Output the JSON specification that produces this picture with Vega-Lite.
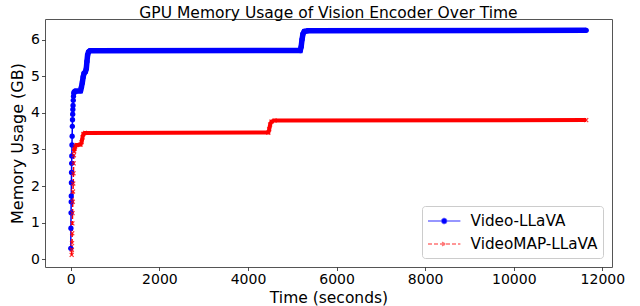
{
  "$schema": "https://vega.github.io/schema/vega-lite/v6.json",
  "width": 567,
  "height": 248,
  "autosize": {"type": "none"},
  "padding": {"left": 45, "top": 19, "right": 28, "bottom": 39},
  "title": {"text": "GPU Memory Usage of Vision Encoder Over Time", "fontSize": 15.5, "font": "DejaVu Sans", "fontWeight": "normal", "color": "#000000", "anchor": "middle", "baseline": "alphabetic", "offset": 1, "dy": 15},
  "config": {
    "view": {"stroke": "#555555", "strokeWidth": 1},
    "font": "DejaVu Sans",
    "axis": {"grid": false, "domain": false, "ticks": true, "tickSize": 3.5, "tickColor": "#222222", "tickWidth": 0.8, "labelFontSize": 14, "labelFont": "DejaVu Sans", "labelColor": "#000000", "labelPadding": 2, "labelFlush": false, "labelOverlap": false, "titleFont": "DejaVu Sans", "titleFontWeight": "normal", "titleColor": "#000000"}
  },
  "data": {"values": [
    {"t": 0, "m": 0.30, "s": "Video-LLaVA"},
    {"t": 3, "m": 0.85, "s": "Video-LLaVA"},
    {"t": 6, "m": 1.27, "s": "Video-LLaVA"},
    {"t": 9, "m": 1.57, "s": "Video-LLaVA"},
    {"t": 11, "m": 1.73, "s": "Video-LLaVA"},
    {"t": 14, "m": 2.09, "s": "Video-LLaVA"},
    {"t": 17, "m": 2.37, "s": "Video-LLaVA"},
    {"t": 20, "m": 2.62, "s": "Video-LLaVA"},
    {"t": 23, "m": 2.82, "s": "Video-LLaVA"},
    {"t": 27, "m": 3.12, "s": "Video-LLaVA"},
    {"t": 31, "m": 3.36, "s": "Video-LLaVA"},
    {"t": 35, "m": 3.63, "s": "Video-LLaVA"},
    {"t": 39, "m": 3.81, "s": "Video-LLaVA"},
    {"t": 43, "m": 3.96, "s": "Video-LLaVA"},
    {"t": 47, "m": 4.09, "s": "Video-LLaVA"},
    {"t": 51, "m": 4.20, "s": "Video-LLaVA"},
    {"t": 56, "m": 4.34, "s": "Video-LLaVA"},
    {"t": 61, "m": 4.45, "s": "Video-LLaVA"},
    {"t": 68, "m": 4.53, "s": "Video-LLaVA"},
    {"t": 80, "m": 4.57, "s": "Video-LLaVA"},
    {"t": 100, "m": 4.59, "s": "Video-LLaVA"},
    {"t": 220, "m": 4.60, "s": "Video-LLaVA"},
    {"t": 240, "m": 4.70, "s": "Video-LLaVA"},
    {"t": 260, "m": 4.82, "s": "Video-LLaVA"},
    {"t": 280, "m": 4.98, "s": "Video-LLaVA"},
    {"t": 300, "m": 5.08, "s": "Video-LLaVA"},
    {"t": 330, "m": 5.12, "s": "Video-LLaVA"},
    {"t": 350, "m": 5.20, "s": "Video-LLaVA"},
    {"t": 365, "m": 5.40, "s": "Video-LLaVA"},
    {"t": 380, "m": 5.58, "s": "Video-LLaVA"},
    {"t": 400, "m": 5.66, "s": "Video-LLaVA"},
    {"t": 430, "m": 5.69, "s": "Video-LLaVA"},
    {"t": 5180, "m": 5.70, "s": "Video-LLaVA"},
    {"t": 5200, "m": 5.80, "s": "Video-LLaVA"},
    {"t": 5220, "m": 6.00, "s": "Video-LLaVA"},
    {"t": 5240, "m": 6.15, "s": "Video-LLaVA"},
    {"t": 5270, "m": 6.22, "s": "Video-LLaVA"},
    {"t": 5350, "m": 6.24, "s": "Video-LLaVA"},
    {"t": 11635, "m": 6.25, "s": "Video-LLaVA"},
    {"t": 20, "m": 0.12, "s": "VideoMAP-LLaVA"},
    {"t": 24, "m": 0.26, "s": "VideoMAP-LLaVA"},
    {"t": 28, "m": 0.44, "s": "VideoMAP-LLaVA"},
    {"t": 32, "m": 0.71, "s": "VideoMAP-LLaVA"},
    {"t": 36, "m": 0.98, "s": "VideoMAP-LLaVA"},
    {"t": 40, "m": 1.26, "s": "VideoMAP-LLaVA"},
    {"t": 45, "m": 1.57, "s": "VideoMAP-LLaVA"},
    {"t": 50, "m": 1.85, "s": "VideoMAP-LLaVA"},
    {"t": 55, "m": 2.07, "s": "VideoMAP-LLaVA"},
    {"t": 60, "m": 2.35, "s": "VideoMAP-LLaVA"},
    {"t": 65, "m": 2.62, "s": "VideoMAP-LLaVA"},
    {"t": 70, "m": 2.84, "s": "VideoMAP-LLaVA"},
    {"t": 75, "m": 2.95, "s": "VideoMAP-LLaVA"},
    {"t": 85, "m": 3.02, "s": "VideoMAP-LLaVA"},
    {"t": 100, "m": 3.08, "s": "VideoMAP-LLaVA"},
    {"t": 130, "m": 3.12, "s": "VideoMAP-LLaVA"},
    {"t": 220, "m": 3.13, "s": "VideoMAP-LLaVA"},
    {"t": 245, "m": 3.20, "s": "VideoMAP-LLaVA"},
    {"t": 265, "m": 3.33, "s": "VideoMAP-LLaVA"},
    {"t": 285, "m": 3.42, "s": "VideoMAP-LLaVA"},
    {"t": 320, "m": 3.45, "s": "VideoMAP-LLaVA"},
    {"t": 4460, "m": 3.46, "s": "VideoMAP-LLaVA"},
    {"t": 4480, "m": 3.55, "s": "VideoMAP-LLaVA"},
    {"t": 4500, "m": 3.68, "s": "VideoMAP-LLaVA"},
    {"t": 4530, "m": 3.76, "s": "VideoMAP-LLaVA"},
    {"t": 4600, "m": 3.79, "s": "VideoMAP-LLaVA"},
    {"t": 11635, "m": 3.80, "s": "VideoMAP-LLaVA"}
  ]},
  "encoding": {
    "x": {"field": "t", "type": "quantitative", "scale": {"domain": [-582, 12217], "nice": false, "zero": false}, "axis": {"values": [0, 2000, 4000, 6000, 8000, 10000, 12000], "format": "d", "title": "Time (seconds)", "titleFontSize": 15.5, "titlePadding": 4}},
    "y": {"field": "m", "type": "quantitative", "scale": {"domain": [-0.21, 6.56], "nice": false, "zero": false}, "axis": {"values": [0, 1, 2, 3, 4, 5, 6], "format": "d", "title": "Memory Usage (GB)", "titleFontSize": 16, "titlePadding": 5}},
    "color": {"field": "s", "type": "nominal", "scale": {"domain": ["Video-LLaVA", "VideoMAP-LLaVA"], "range": ["#0000ff", "#ff0000"]},
      "legend": {"title": null, "orient": "bottom-right", "offset": 9, "padding": 5, "fillColor": "rgba(255,255,255,0.8)", "strokeColor": "#cccccc", "cornerRadius": 3, "labelFontSize": 15.25, "labelFont": "DejaVu Sans", "labelColor": "#000000", "labelLimit": 300, "symbolSize": 324, "symbolOffset": 7.2, "labelOffset": 16.4, "rowPadding": 4,
        "encode": {"symbols": {"update": {
          "shape": {"signal": "datum.value === 'Video-LLaVA' ? 'M-1.8,0H1.8M0.28,0A0.28,0.28,0,1,1,-0.28,0A0.28,0.28,0,1,1,0.28,0Z' : 'M-1.8,0H1.8M-0.22,-0.22L0.22,0.22M-0.22,0.22L0.22,-0.22'"},
          "fill": {"signal": "datum.value === 'Video-LLaVA' ? '#0000ff' : 'transparent'"},
          "stroke": {"signal": "datum.value === 'Video-LLaVA' ? '#0000ff' : '#ff0000'"},
          "strokeDash": {"signal": "datum.value === 'Video-LLaVA' ? [1, 0] : [3, 2]"},
          "strokeWidth": {"value": 1.5},
          "strokeOpacity": {"value": 0.55},
          "fillOpacity": {"value": 1},
          "opacity": {"value": 1}
        }}}}}
  },
  "layer": [
    {"mark": {"type": "line", "strokeWidth": 1.5}, "encoding": {"strokeDash": {"field": "s", "type": "nominal", "scale": {"domain": ["Video-LLaVA", "VideoMAP-LLaVA"], "range": [[1, 0], [4, 2]]}, "legend": null}}},
    {"transform": [{"filter": "datum.s === 'Video-LLaVA' && datum.t >= 65"}], "mark": {"type": "line", "strokeWidth": 5.5}},
    {"transform": [{"filter": "datum.s === 'VideoMAP-LLaVA' && datum.t >= 75"}], "mark": {"type": "line", "strokeWidth": 4}},
    {"transform": [{"filter": "datum.s === 'Video-LLaVA'"}], "mark": {"type": "point", "filled": true, "shape": "circle", "size": 28, "opacity": 1}},
    {"transform": [{"filter": "datum.s === 'VideoMAP-LLaVA'"}], "mark": {"type": "point", "filled": false, "shape": "M-1,-1L1,1M-1,1L1,-1", "size": 16, "strokeWidth": 1.2, "opacity": 0.8}}
  ]
}
